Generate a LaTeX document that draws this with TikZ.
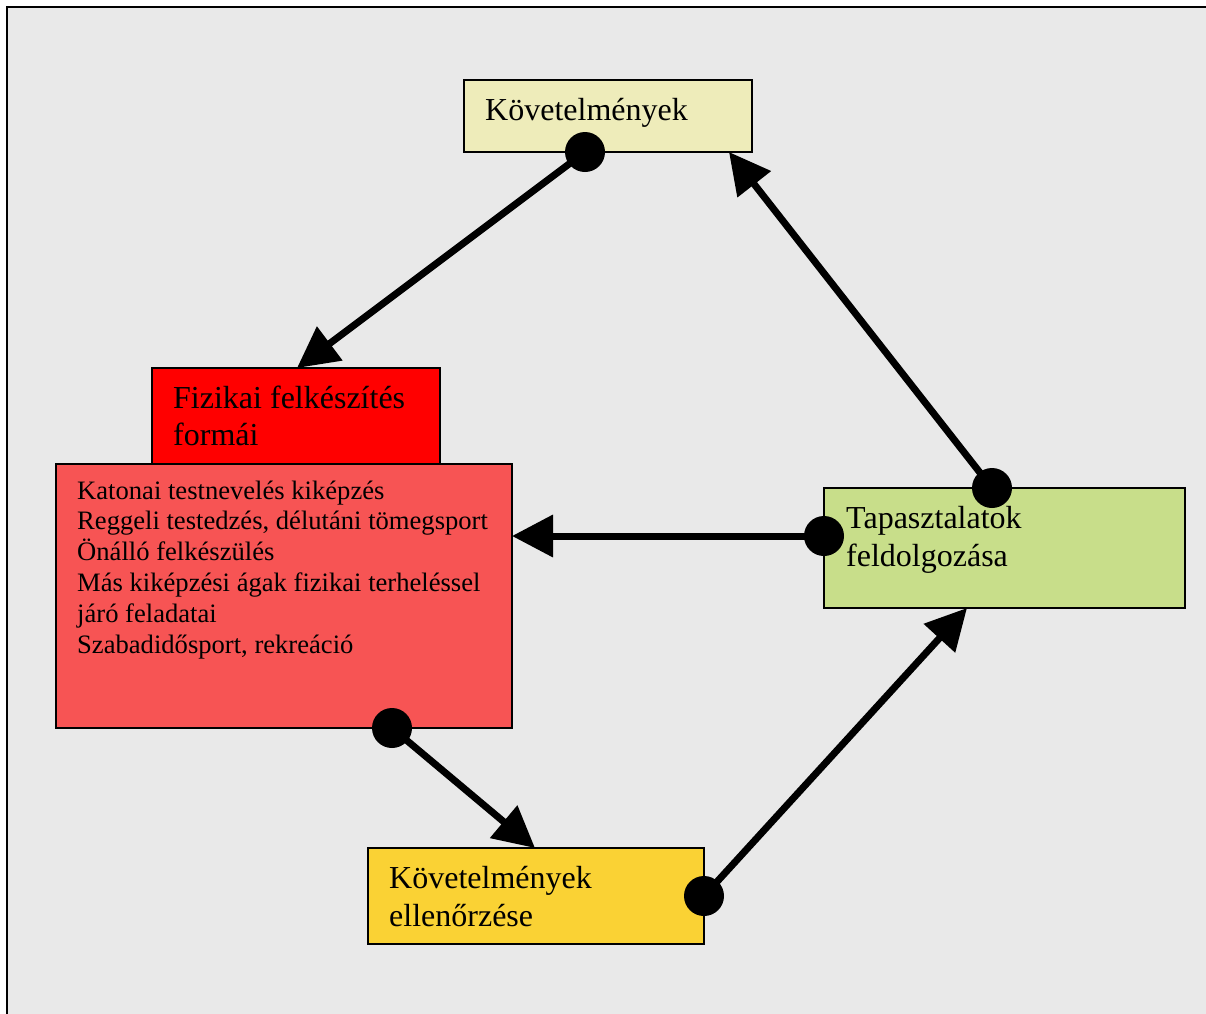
\documentclass[tikz,border=0pt]{standalone}
\usepackage{fontspec}
\setmainfont{Liberation Serif}
\usetikzlibrary{arrows.meta}
\definecolor{bgc}{RGB}{233,233,233}
\definecolor{cK}{RGB}{238,236,186}
\definecolor{cF}{RGB}{255,0,0}
\definecolor{cB}{RGB}{247,84,84}
\definecolor{cT}{RGB}{200,222,138}
\definecolor{cE}{RGB}{250,210,52}
\tikzset{
  box/.style={draw=black, line width=1.6bp, inner sep=0pt, outer sep=0pt},
  bigtxt/.style={inner sep=0pt, anchor=base west, align=left, font=\fontsize{32bp}{37.5bp}\selectfont},
  smalltxt/.style={inner sep=0pt, anchor=base west, align=left, font=\fontsize{26.6bp}{30.8bp}\selectfont},
  conn/.style={line width=7bp, -{Triangle[length=41bp, width=41bp]}},
  dot/.style={fill=black}
}
\begin{document}
\begin{tikzpicture}[x=1bp, y=-1bp]
\useasboundingbox (0,0) rectangle (1206,1014);
\fill[bgc] (7,7) rectangle (1206,1014);
\draw[line width=2.8bp] (7,1014) -- (7,7) -- (1206,7);
% boxes
\node[box, fill=cK, minimum width=288bp, minimum height=72bp] (k) at (608,116) {};
\node[box, fill=cF, minimum width=288bp, minimum height=96bp] (f) at (296,416) {};
\node[box, fill=cB, minimum width=456bp, minimum height=264bp] (b) at (284,596) {};
\node[box, fill=cT, minimum width=361bp, minimum height=120bp] (t) at (1004.5,548) {};
\node[box, fill=cE, minimum width=336bp, minimum height=96bp] (e) at (536,896) {};
% texts (base anchor = baseline of last line)
\node[bigtxt] (kt) at (485,120) {Követelmények};
\node[bigtxt] (ft) at (173,445.5) {Fizikai felkészítés\\formái};
\node[smalltxt] (bt) at (77,653) {Katonai testnevelés kiképzés\\Reggeli testedzés, délutáni tömegsport\\Önálló felkészülés\\Más kiképzési ágak fizikai terheléssel\\járó feladatai\\Szabadidősport, rekreáció};
\node[bigtxt] (tt) at (846,566) {Tapasztalatok\\feldolgozása};
\node[bigtxt] (et) at (389,926) {Követelmények\\ellenőrzése};
% connector endpoints
\coordinate (a1s) at ([xshift=-23bp]k.south);
\coordinate (a1e) at (297,368);
\coordinate (a2s) at (992,488);
\coordinate (a2e) at (729,152);
\coordinate (a3s) at ([yshift=12bp]t.west);
\coordinate (a3e) at (b.east |- a3s);
\coordinate (a4s) at (392,728);
\coordinate (a4e) at (535,848);
\coordinate (a5s) at (e.east);
\coordinate (a5e) at (967,608);
% connectors
\draw[conn] (a1s) -- (a1e);
\draw[conn] (a2s) -- (a2e);
\draw[conn] (a3s) -- (a3e);
\draw[conn] (a4s) -- (a4e);
\draw[conn] (a5s) -- (a5e);
\foreach \p in {a1s,a2s,a3s,a4s,a5s} \fill[dot] (\p) circle[radius=20bp];
\end{tikzpicture}
\end{document}
